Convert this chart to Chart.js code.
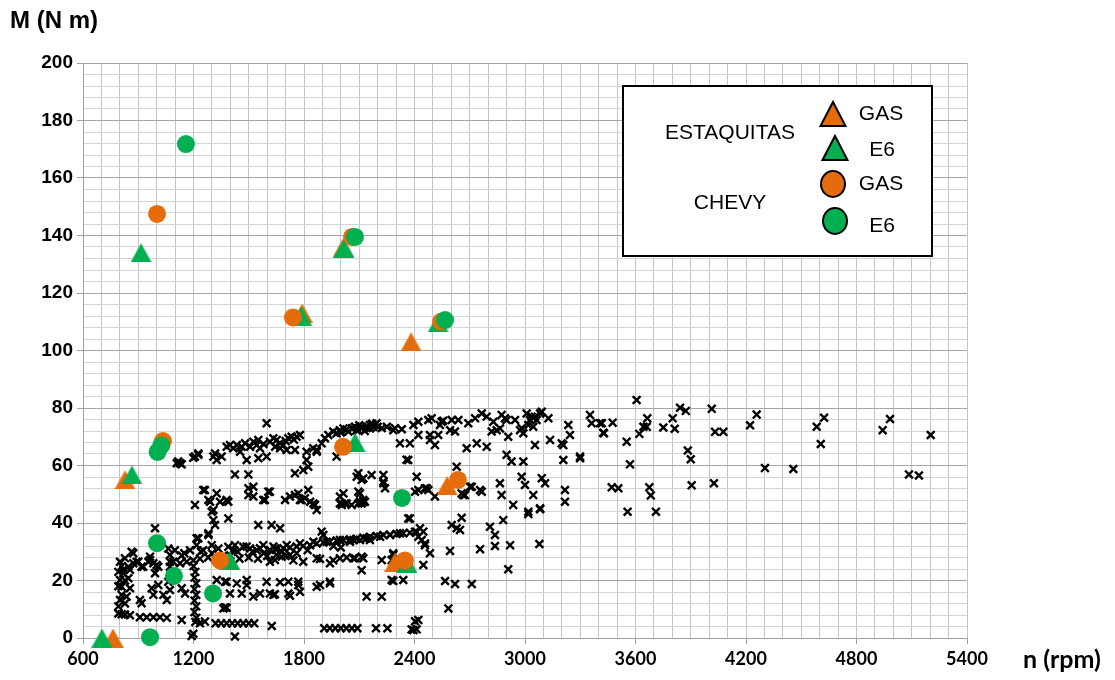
<!DOCTYPE html>
<html lang="es">
<head>
<meta charset="utf-8">
<title>M vs n</title>
<script src="https://cdn.jsdelivr.net/npm/chart.js@4.4.1/dist/chart.umd.min.js"></script>
<style>
  html, body { margin: 0; padding: 0; background: #fff; }
  #wrap { width: 1115px; height: 680px; position: relative; }
</style>
</head>
<body>
<div id="wrap"><canvas id="grafico" width="1115" height="680"></canvas></div>
<script>
// ---- datos: [n (rpm), M (N m)] ----

// mapa de puntos medidos (cruces negras), por zonas
const bandaAlta = [
  [1109,60.8],[1117,61.4],[1127,60.8],[1136,60.4],[1199,62.7],[1208,63.1],[1226,63.7],[1226,64.2],
  [1308,63.1],[1317,64.2],[1326,61.9],[1353,63.1],[1380,66.5],[1398,67.1],[1416,66],[1435,67.1],
  [1453,64.8],[1462,66.5],[1480,67.7],[1507,66.5],[1525,68.3],[1543,67.1],[1552,68.9],[1561,66],
  [1489,61.9],[1552,62.5],[1597,63.1],[1615,68.3],[1634,69.5],[1652,68.9],[1670,67.7],[1688,67.1],
  [1643,66.5],[1670,66],[1715,69.5],[1733,70],[1760,70],[1778,70.6],[1706,65.4],[1751,65.4],
  [1814,64.8],[1869,64.8],[1814,61.9],[1823,59.6],[1796,58.4],[1751,57.3],[1914,69.5],[1932,70.6],
  [1959,71.8],[1977,71.2],[1995,72.3],[2014,72.9],[2041,71.8],[2059,72.9],[2077,73.5],[2095,72.3],
  [2113,72.9],[2140,73.5],[2158,72.9],[1896,67.7],[1869,65.4],[1977,63.1],[1597,74.7],[2086,72.3],
  [2113,73.5],[2140,73],[2158,74.1],[2176,73.5],[2194,74.7],[2222,73],[2285,72.3],[2294,73],
  [2331,72.6],[2394,74.1],[2421,75.2],[2421,70.6],[2484,70.6],[2475,75.8],[2493,76.4],[2484,68.9],
  [2511,67.1],[2529,70.6],[2538,74.1],[2547,75.2],[2556,75.6],[2593,72.3],[2602,75.8],[2620,71.8],
  [2638,75.8],[2683,66],[2692,74.7],[2729,76.4],[2738,67.7],[2765,78.1],[2792,77],[2792,66.5],
  [2828,75.2],[2819,71.8],[2846,72.3],[2864,72.9],[2873,77.6],[2891,76.4],[2900,75.8],[2909,70],
  [2946,75.8],[2973,72.3],[2991,71.2],[2982,73],[3009,78.1],[3018,74.1],[3027,75.8],[3036,77],
  [3045,73.5],[3054,77],[3063,75.8],[3082,78.1],[3091,78.7],[3127,76.4],[3136,68.9],[3054,67.1],
  [3208,67.1],[3199,67.7],[3235,74.1],[3244,70.6],[3353,77.6],[3362,74.7],[3407,74.7],[3425,71.4],
  [3417,74.7],[3476,74.9],[3429,71.2],[3606,82.8],[3552,68.3],[3664,76.4],[3661,73.5],[3621,71],
  [3643,73.5],[3751,73.2],[3802,76.4],[3813,72.8],[3842,80.1],[3873,79],[3884,65.2],[3900,62.2],
  [4014,79.7],[4032,71.7],[4077,71.7],[4222,74],[4258,77.7],[4303,59.1],[4457,58.8],[4584,73.5],
  [4624,76.6],[4606,67.5],[4942,72.3],[4982,76.2],[5085,56.9],[5139,56.5],[5203,70.6],
  [2357,62],[2366,61.9],[2321,67.7],[2375,67.7],[2900,63.7],[2927,61.4],[2991,61.4],[3208,61.9],
  [3299,62.5],[3299,63.1],[3570,60.4],[2629,59.6],[1580,67.5],[1700,68.5],[1745,69],[1850,66],
  [2000,71.5],[2030,72.5],[2065,73],[2100,74],[2130,72],[2170,74.5],[2200,73.5],[2250,73.5]
];

const bandaMedia = [
  [2086,56.1],[2122,55.5],[2095,57.3],[2167,56.7],[2231,56.7],[2231,54.4],[2104,50.3],[2131,47.4],
  [2104,47.4],[2240,52.1],[2231,53.8],[2412,56.1],[2421,51.5],[2403,50.9],[2457,52.1],[2466,52.1],
  [2475,51.5],[2511,49.2],[2647,55],[2656,50.3],[2665,49.7],[2674,49.7],[2702,52.6],[2711,52.6],
  [2756,51.5],[2765,50.9],[2864,53.8],[2873,49.7],[2936,46.3],[2982,56.1],[3000,53.2],[3045,49.7],
  [3082,45.1],[3091,55.6],[3109,53.8],[3217,51.5],[3217,47.4],[3018,43.9],[3471,52.4],[3507,52.1],
  [3557,43.9],[3675,52.4],[3683,49.6],[3711,43.9],[3905,53.1],[4026,53.8],[2113,55],[2095,50.9],
  [2095,46.8],[1995,49.2],[1995,46.8],[2122,48],[2014,50.3],[2023,46.8],[2005,46.3],[2113,46.8],
  [2059,46.3],[1208,46.3],[1253,51.5],[1290,47.4],[1326,50.3],[1344,47.4],[1389,47.4],[1299,43.9],
  [1262,51.5],[1281,48],[1380,48],[1308,44.5],[1308,41],[1317,39.3],[1389,41.6],[1425,56.9],
  [1498,56.9],[1525,52.6],[1498,49.7],[1588,48],[1615,50.9],[1498,52.1],[1525,49.2],[1579,48],
  [1606,50.9],[1552,39.3],[1624,39.3],[1670,38.2],[1697,48],[1724,49.2],[1751,49.7],[1769,50.3],
  [1787,48],[1805,48.6],[1860,46.3],[1869,44.5],[1833,47.4],[1778,48],[1823,51.5],[1851,46.8],
  [2005,46.8],[2032,46.8],[2122,47.4],[2366,41.6],[2375,41.6],[2602,39.3],[2629,38.2],[2656,41.8],
  [2647,37.6],[2810,38.7],[2837,35.8],[2837,32],[2882,41],[2919,32.3],[2756,30.9],[3078,32.7],
  [3018,43.1],[3082,44.8],[991,38.2]
];

const bandaBaja = [
  [1615,30.6],[1652,30.9],[1688,31.2],[1724,31.5],[1760,31.8],[1796,32],[1833,32.3],[1869,32.9],
  [1905,33.2],[1941,33.5],[1977,33.9],[2014,34.1],[2050,34.3],[2086,34.5],[2122,34.9],[2158,35.2],
  [2194,35.5],[2231,35.8],[2267,35.9],[2303,36.2],[2339,36.4],[2375,36.6],[2412,36.9],[2448,37],
  [1416,30.6],[1489,31.8],[1561,31.2],[1634,31.8],[1706,32.3],[1778,32.9],[1851,33.5],[1923,33.5],
  [1995,34.1],[2068,34.1],[2140,34.7],[2050,33.5],[2104,34.1],[2158,34.1],[2213,35.2],[2267,35.8],
  [2321,36.4],[2403,37],[2430,38.2],[2421,35.2],[2439,34.1],[2457,32.3],[2484,29.5],[2457,32.9],
  [1896,37],[1905,35.8],[1217,34.7],[1281,36.4],[1226,34.7],[1281,35.8],[1063,31.1],[1099,30.5],
  [1136,28.7],[1181,30.5],[1217,32.3],[1253,30.5],[1299,32.3],[1335,31.1],[1389,31.7],[1425,32.3],
  [1470,31.7],[1507,31.1],[1543,30.5],[1579,32.3],[1643,31.1],[1072,26.5],[1090,26.5],[1127,26],
  [1163,26.5],[1199,27],[1235,27.6],[1280,28],[1320,27.6],[1360,28.5],[1400,28.7],[1450,27.6],
  [1500,28],[1550,27.6],[1600,28.5],[1650,29],[1700,28.5],[1742,27],[1796,26.5],[1887,27.5],
  [1959,27],[2032,28],[1615,26.5],[1642,27.1],[1679,28.3],[1724,28.9],[1760,29.5],[1869,27.7],
  [1941,26],[1995,27.7],[2068,27.7],[2113,28.3],[2222,27.1],[2285,28.9],[2113,23.6],[2077,27.7],
  [2122,27.7],[2285,29.5],[2276,27.1],[2448,25.4],[1150,29.5],[1240,30],[1300,29.5],[1440,30],
  [1520,30],[1580,29.5],[1680,30],[1820,30.5],[1960,32],[2000,31.5]
];

const zonaInferior = [
  [801,26.5],[828,27.7],[864,30],[873,26],[855,23.7],[819,22.5],[801,20.2],[810,17.8],[810,15],
  [801,13.2],[846,20.8],[855,17.3],[837,14.4],[900,26.5],[918,24.8],[955,26.5],[964,28.3],[982,26],
  [1009,24.8],[991,22.5],[973,17.3],[982,15],[1009,18.4],[1036,15],[1055,13.2],[1072,16.7],
  [1063,19.6],[909,13.2],[918,12.1],[873,29.5],[819,23.7],[846,24.8],[891,26.5],[927,24.8],
  [964,27.1],[1000,25.4],[1072,28.9],[1072,24.8],[792,23],[792,18],[792,11],[810,25],[828,20],
  [828,12],[792,8.5],[810,8.3],[828,8.2],[855,7.9],[909,7.2],[946,7.2],[982,7.2],[1018,7.2],
  [1055,7],[1136,6.3],[1205,21],[1215,19],[1205,17],[1215,15],[1205,13],[1215,11],[1205,9],
  [1215,7],[1210,5.6],[1200,25],[1210,23],[1235,5.1],[1262,5.7],[1190,0.7],[1199,1.5],[1136,17.3],
  [1154,15.5],[1326,20.2],[1371,19.6],[1435,19],[1489,20.2],[1489,18.4],[1398,15.5],[1462,15.5],
  [1561,15.5],[1615,15.5],[1371,10.7],[1362,10.3],[1380,10.5],[1597,19.6],[1380,19.6],[1670,19.4],
  [1320,5.1],[1350,5.1],[1380,5.1],[1410,5.1],[1440,5.1],[1470,5.1],[1500,5.1],[1530,5.1],
  [1625,4.2],[1425,0.5],[1525,14.4],[1634,15],[1715,15.5],[1778,16.1],[1869,17.8],[1941,19],
  [1642,15.2],[1724,14.7],[1715,19.6],[1769,19.6],[1769,18.4],[1887,18.4],[1941,19.6],[2140,14.4],
  [2222,14.4],[2276,20.2],[2339,20.2],[2285,19.8],[1910,3.4],[1940,3.4],[1970,3.4],[2000,3.4],
  [2030,3.4],[2060,3.4],[2090,3.4],[2191,3.4],[2253,3.4],[2394,2.8],[2421,6.3],[2403,5.8],
  [2412,3],[2384,3],[2566,19.8],[2620,18.8],[2711,18.8],[2584,10.3],[2909,23.9],[2593,30.3]
];

// marcadores destacados
const estaquitasGas = [[763,0],[828,55],[1790,113],[2012,135.7],[2381,103],[2577,53],[2294,26.4]];
const estaquitasE6 = [[703,0],[866,56.7],[915,134],[1785,112],[2017,135.6],[2077,68],[1397,27],[2359,26],[2528,109.6]];
const chevyGas = [[1002,147.5],[1034,68.5],[1740,111.5],[2012,66.5],[2061,139.5],[1344,27],[2348,27],[2544,110],[2636,55]];
const chevyE6 = [[1159,171.8],[1025,67],[1005,64.7],[1002,33],[1094,21.6],[1306,15.5],[964,0.3],[2077,139.5],[2332,48.7],[2566,110.6]];

// ejes
const ejeX = { min: 600, max: 5400, paso: 100, pasoEtiqueta: 600 };
const ejeY = { min: 0, max: 200, paso: 4, pasoEtiqueta: 20 };

const naranja = '#E46C0A';
const verde = '#00B050';

function aPuntos(lista) {
  return lista.map(p => ({ x: p[0], y: p[1] }));
}

// triangulo centrado en su caja (como en Excel)
function hacerTriangulo(color, w, h) {
  const c = document.createElement('canvas');
  c.width = w; c.height = h;
  const g = c.getContext('2d');
  g.fillStyle = color;
  g.beginPath();
  g.moveTo(w / 2, 0);
  g.lineTo(w, h);
  g.lineTo(0, h);
  g.closePath();
  g.fill();
  return c;
}

const mapaMotor = [].concat(bandaAlta, bandaMedia, bandaBaja, zonaInferior);

// textos de ejes y leyenda dibujados a mano
const textosExtra = {
  id: 'textosExtra',
  afterDraw(chart) {
    const ctx = chart.ctx;
    ctx.save();
    ctx.fillStyle = '#000';
    ctx.textAlign = 'left';
    ctx.textBaseline = 'alphabetic';
    ctx.font = "bold 24px 'Liberation Sans', Arial, sans-serif";
    ctx.fillText('M (N m)', 10, 28);
    ctx.font = "bold 25px Lato, sans-serif";
    ctx.fillText('n (rpm)', 1023, 668);

    // caja de leyenda
    ctx.fillStyle = '#fff';
    ctx.fillRect(623, 86, 309, 170);
    ctx.lineWidth = 2;
    ctx.strokeStyle = '#000';
    ctx.strokeRect(623, 86, 309, 170);

    ctx.fillStyle = '#000';
    ctx.font = "21px 'Liberation Sans', Arial, sans-serif";
    ctx.textAlign = 'center';
    ctx.textBaseline = 'middle';
    ctx.fillText('ESTAQUITAS', 730, 133);
    ctx.fillText('CHEVY', 730, 203);
    ctx.fillText('GAS', 881, 114);
    ctx.fillText('E6', 882, 150);
    ctx.fillText('GAS', 881, 184);
    ctx.fillText('E6', 882, 226);

    function tri(cx, cy, color) {
      ctx.beginPath();
      ctx.moveTo(cx, cy - 12);
      ctx.lineTo(cx + 12.5, cy + 12);
      ctx.lineTo(cx - 12.5, cy + 12);
      ctx.closePath();
      ctx.fillStyle = color;
      ctx.fill();
      ctx.lineWidth = 2;
      ctx.stroke();
    }
    function elipse(cx, cy, color) {
      ctx.beginPath();
      ctx.ellipse(cx, cy, 12, 13, 0, 0, Math.PI * 2);
      ctx.fillStyle = color;
      ctx.fill();
      ctx.lineWidth = 2;
      ctx.stroke();
    }
    tri(833, 114, naranja);
    tri(835, 148, verde);
    elipse(833, 184, naranja);
    elipse(835, 221, verde);
    ctx.restore();
  }
};

const ctx = document.getElementById('grafico').getContext('2d');

new Chart(ctx, {
  type: 'scatter',
  data: {
    datasets: [
      { label: 'CHEVY E6', data: aPuntos(chevyE6), pointStyle: 'circle', pointRadius: 9, clip: false,
        backgroundColor: verde, borderColor: verde, borderWidth: 0 },
      { label: 'CHEVY GAS', data: aPuntos(chevyGas), pointStyle: 'circle', pointRadius: 9, clip: false,
        backgroundColor: naranja, borderColor: naranja, borderWidth: 0 },
      { label: 'ESTAQUITAS E6', data: aPuntos(estaquitasE6), clip: false,
        pointStyle: hacerTriangulo(verde, 21, 19) },
      { label: 'ESTAQUITAS GAS', data: aPuntos(estaquitasGas), clip: false,
        pointStyle: hacerTriangulo(naranja, 21, 19) },
      { label: 'mapa', data: aPuntos(mapaMotor), pointStyle: 'crossRot', pointRadius: 5.5, clip: false,
        borderColor: '#000', backgroundColor: '#000', borderWidth: 2.4 }
    ]
  },
  options: {
    responsive: false,
    animation: false,
    layout: { padding: { top: 63, right: 148, left: 0, bottom: 0 } },
    plugins: { legend: { display: false }, tooltip: { enabled: false } },
    scales: {
      x: {
        type: 'linear',
        min: ejeX.min, max: ejeX.max,
        afterFit(scale) { scale.height = 42; },
        border: { color: '#a0a0a0', width: 1 },
        grid: {
          color: '#c4c4c4',
          lineWidth: 1,
          tickLength: 6,
          tickColor: c => (Math.round(c.tick.value) % ejeX.pasoEtiqueta === 0 ? '#a0a0a0' : 'rgba(0,0,0,0)')
        },
        ticks: {
          stepSize: ejeX.paso,
          autoSkip: false,
          maxRotation: 0,
          padding: 4,
          color: '#000',
          font: { family: 'Lato', size: 18, weight: 'bold' },
          callback: v => (Math.round(v) % ejeX.pasoEtiqueta === 0 ? String(v) : '')
        }
      },
      y: {
        type: 'linear',
        min: ejeY.min, max: ejeY.max,
        afterFit(scale) { scale.width = 83; },
        border: { color: '#a0a0a0', width: 1 },
        grid: {
          color: c => (Math.round(c.tick.value) % ejeY.pasoEtiqueta === 0 ? '#a6a6a6' : '#d4d4d4'),
          lineWidth: 1,
          tickLength: 6,
          tickColor: c => (Math.round(c.tick.value) % ejeY.pasoEtiqueta === 0 ? '#a0a0a0' : 'rgba(0,0,0,0)')
        },
        ticks: {
          stepSize: ejeY.paso,
          autoSkip: false,
          padding: 4,
          color: '#000',
          font: { family: "'Liberation Sans', Arial", size: 19, weight: 'bold' },
          callback: v => (Math.round(v) % ejeY.pasoEtiqueta === 0 ? String(v) : '')
        }
      }
    }
  },
  plugins: [textosExtra]
});
</script>
</body>
</html>
